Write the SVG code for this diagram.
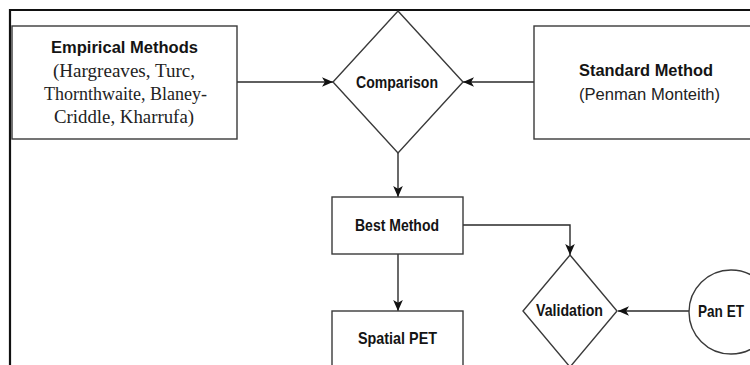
<svg xmlns="http://www.w3.org/2000/svg" width="750" height="365" viewBox="0 0 750 365">
  <style>
    .box { fill: #ffffff; stroke: #3a3a3a; stroke-width: 1.4; }
    .frame { fill: none; stroke: #111111; stroke-width: 2.2; }
    .edge { fill: none; stroke: #2a2a2a; stroke-width: 1.4; }
    .lbl { font-family: "Liberation Sans", Arial, sans-serif; font-weight: bold; font-size: 16.5px; fill: #141414; text-anchor: middle; }
    .sub { font-family: "Liberation Sans", Arial, sans-serif; font-size: 16px; fill: #222222; text-anchor: middle; }
    .serif { font-family: "Liberation Serif", "Times New Roman", serif; font-size: 18px; fill: #222222; text-anchor: middle; }
  </style>
  <defs>
    <marker id="arrow" markerUnits="userSpaceOnUse" markerWidth="11" markerHeight="11" viewBox="0 0 10 10" refX="10" refY="5" orient="auto">
      <path d="M0,0.6 L10,5 L0,9.4 L2.6,5 Z" fill="#111111"/>
    </marker>
  </defs>
  <rect width="750" height="365" fill="#ffffff"/>

  <!-- outer frame (top and left edges) -->
  <path class="frame" d="M10,366 L10,10 L751,10"/>

  <g id="connectors">
    <line class="edge" x1="237" y1="82" x2="333" y2="82" marker-end="url(#arrow)"/>
    <line class="edge" x1="534" y1="82" x2="463" y2="82" marker-end="url(#arrow)"/>
    <line class="edge" x1="398" y1="153" x2="398" y2="197" marker-end="url(#arrow)"/>
    <line class="edge" x1="398" y1="254" x2="398" y2="311" marker-end="url(#arrow)"/>
    <polyline class="edge" points="463,225 570,225 570,255" marker-end="url(#arrow)"/>
    <line class="edge" x1="689" y1="311" x2="618" y2="311" marker-end="url(#arrow)"/>
  </g>

  <g id="empirical">
    <rect class="box" x="12" y="26" width="225" height="113"/>
    <text class="lbl" x="124.5" y="53" textLength="147" lengthAdjust="spacingAndGlyphs">Empirical Methods</text>
    <text class="serif" x="124" y="77" textLength="142" lengthAdjust="spacingAndGlyphs">(Hargreaves, Turc,</text>
    <text class="serif" x="125.5" y="100" textLength="163" lengthAdjust="spacingAndGlyphs">Thornthwaite, Blaney-</text>
    <text class="serif" x="124" y="123" textLength="140" lengthAdjust="spacingAndGlyphs">Criddle, Kharrufa)</text>
  </g>

  <g id="comparison">
    <polygon class="box" points="398,11 463,82 398,153 333,82"/>
    <text class="lbl" x="397" y="88" textLength="82" lengthAdjust="spacingAndGlyphs">Comparison</text>
  </g>

  <g id="standard">
    <rect class="box" x="534" y="26" width="232" height="113"/>
    <text class="lbl" x="646" y="76" textLength="134" lengthAdjust="spacingAndGlyphs">Standard Method</text>
    <text class="sub" x="649.5" y="100" textLength="141" lengthAdjust="spacingAndGlyphs">(Penman Monteith)</text>
  </g>

  <g id="best-method">
    <rect class="box" x="332" y="197" width="131" height="57"/>
    <text class="lbl" x="397" y="231" textLength="84" lengthAdjust="spacingAndGlyphs">Best Method</text>
  </g>

  <g id="spatial-pet">
    <rect class="box" x="332" y="311" width="131" height="70"/>
    <text class="lbl" x="397.5" y="344" textLength="79" lengthAdjust="spacingAndGlyphs">Spatial PET</text>
  </g>

  <g id="validation">
    <polygon class="box" points="570,255 617,311 570,367 523,311"/>
    <text class="lbl" x="569.5" y="316" textLength="67" lengthAdjust="spacingAndGlyphs">Validation</text>
  </g>

  <g id="pan-et">
    <circle class="box" cx="731" cy="312" r="42"/>
    <text class="lbl" x="721" y="317" textLength="46" lengthAdjust="spacingAndGlyphs">Pan ET</text>
  </g>
</svg>
